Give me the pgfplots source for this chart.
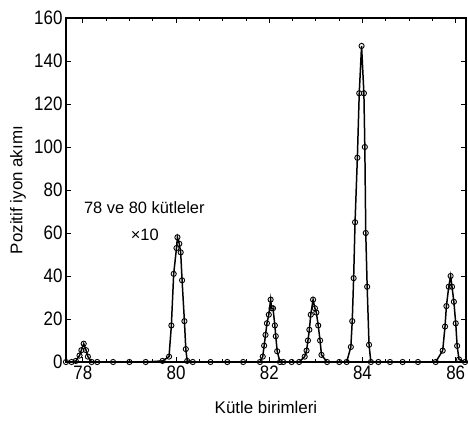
\documentclass[border=0pt]{standalone}
\usepackage{pgfplots}
\pgfplotsset{compat=1.18}
\usepackage{fontspec}
\setmainfont{Liberation Sans}

\pgfplotstableread{
x      y
77.64  0
77.76  0
77.85  0.5
77.93  3
77.97  5.5
78.02  8.5
78.07  5.5
78.11  2.5
78.19  0
78.31  0
78.65  0
79.00  0
79.35  0
79.71  0.5
79.85  2.5
79.90  17
79.95  41
80.01  53
80.03  58
80.07  55
80.10  51
80.13  38
80.18  19
80.21  6
80.24  0.5
80.36  0
80.74  0
81.10  0
81.44  0
81.80  0
81.86  2.5
81.89  7.6
81.92  12.6
81.95  18
81.99  22
82.03  29
82.05  25
82.08  25
82.12  17
82.14  12
82.17  5
82.23  0
82.30  0
82.48  0
82.64  0
82.76  2.5
82.80  5.3
82.83  10
82.86  15
82.89  22
82.94  29
82.98  25
83.01  23
83.05  17
83.09  10
83.12  3.3
83.24  0
83.50  0
83.66  0
83.75  7
83.78  19
83.81  39
83.84  65
83.89  95
83.93  125
83.98  147
84.03  125
84.05  100
84.07  60
84.10  35
84.14  8
84.18  0
84.34  0
84.59  0
84.86  0
85.19  0
85.57  0
85.72  5.3
85.77  16.5
85.80  26
85.85  35
85.89  40
85.92  35
85.96  28
86.00  18
86.03  7.5
86.07  1.2
86.20  0
}\spectrum

\begin{document}
\begin{tikzpicture}
\path[use as bounding box] (-66bp,-61bp) rectangle (402bp,362bp);
\begin{axis}[
  at={(0,0)}, anchor=south west,
  scale only axis,
  width=400bp, height=344bp,
  xmin=77.64, xmax=86.22,
  ymin=0, ymax=160,
  xtick={78,80,82,84,86},
  ytick={0,20,...,160},
  minor x tick num=3,
  tick align=inside,
  major tick length=5bp,
  minor tick length=3bp,
  axis line style={line width=1.5pt},
  every tick/.style={black, line width=0.9pt},
  tick label style={font=\fontsize{17}{19}\selectfont, yscale=1.15},
  /pgf/number format/assume math mode=true,
  xlabel={Kütle birimleri},
  ylabel={Pozitif iyon akımı},
  label style={font=\fontsize{17}{19}\selectfont},
  xlabel style={at={(axis description cs:0.5,0)}, anchor=center, yshift=-45bp},
  ylabel style={at={(axis description cs:-0.12,0.5)}, anchor=center},
  clip=false,
]
\addplot[black, line width=1.5pt, mark=o,
  mark options={fill=white, line width=0.9pt}, mark size=2.6bp]
  table[x=x, y=y] {\spectrum};
\node[font=\fontsize{16.5}{18}\selectfont] at (axis cs:79.32,72) {78 ve 80 kütleler};
\node[font=\fontsize{16.5}{18}\selectfont] at (axis cs:79.33,59) {×10};
\end{axis}
\end{tikzpicture}
\end{document}
